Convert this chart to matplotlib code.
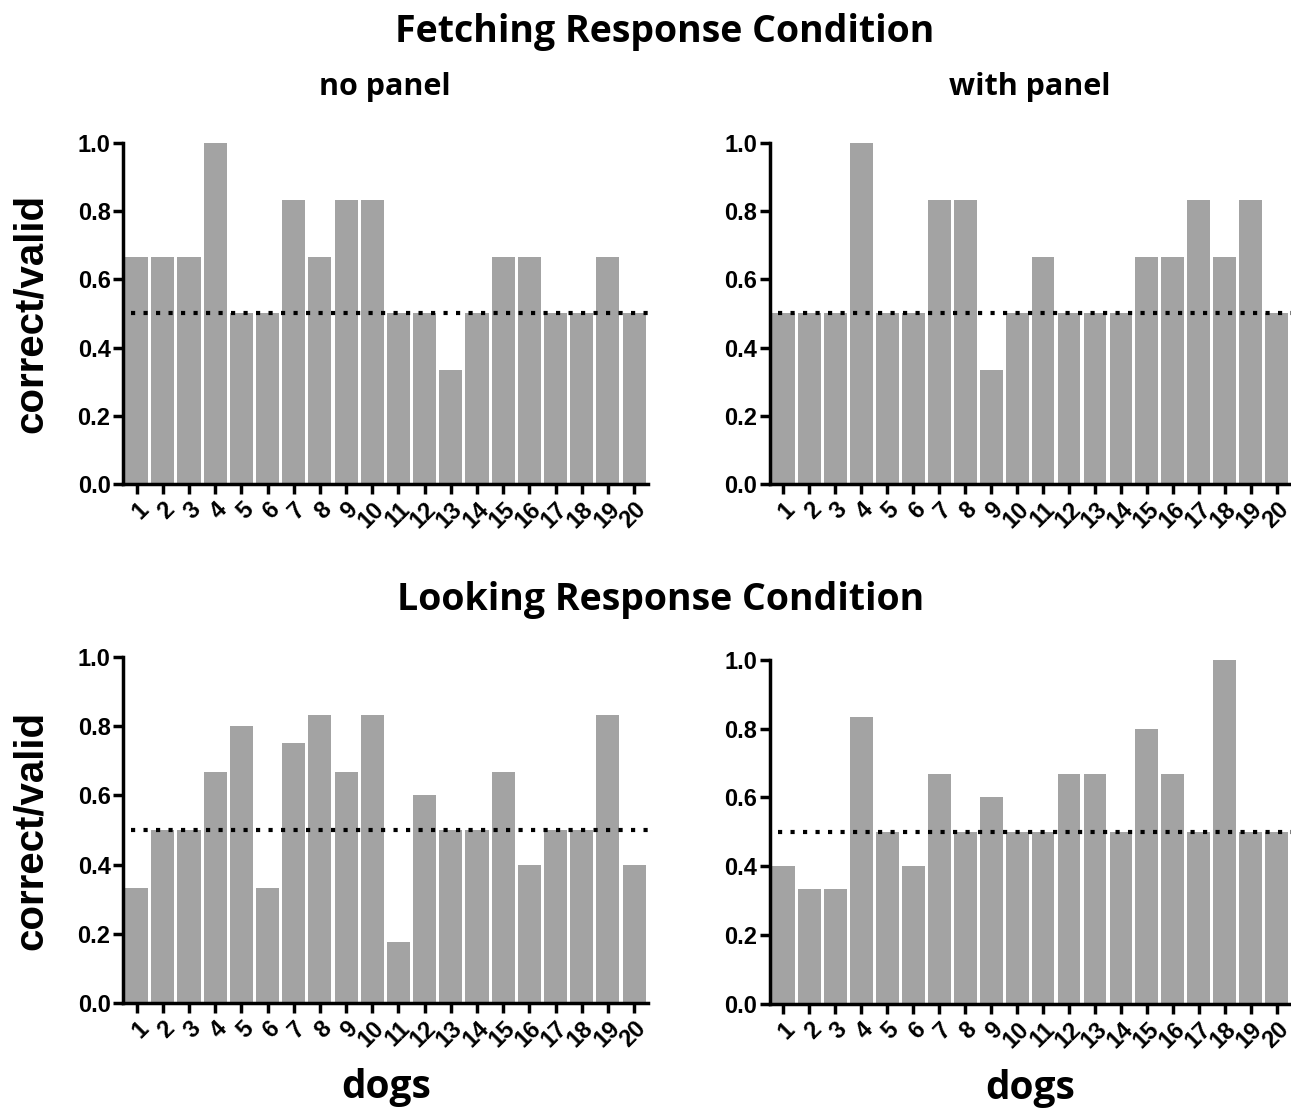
import matplotlib
matplotlib.use("Agg")
import matplotlib.pyplot as plt
import numpy as np

dogs = [str(i) for i in range(1, 21)]

fetch_no_panel = [0.667, 0.667, 0.667, 1.0, 0.5, 0.5, 0.833, 0.667, 0.833, 0.833,
                  0.5, 0.5, 0.333, 0.5, 0.667, 0.667, 0.5, 0.5, 0.667, 0.5]
fetch_with_panel = [0.5, 0.5, 0.5, 1.0, 0.5, 0.5, 0.833, 0.833, 0.333, 0.5,
                    0.667, 0.5, 0.5, 0.5, 0.667, 0.667, 0.833, 0.667, 0.833, 0.5]
look_no_panel = [0.333, 0.5, 0.5, 0.667, 0.8, 0.333, 0.75, 0.833, 0.667, 0.833,
                 0.175, 0.6, 0.5, 0.5, 0.667, 0.4, 0.5, 0.5, 0.833, 0.4]
look_with_panel = [0.4, 0.333, 0.333, 0.833, 0.5, 0.4, 0.667, 0.5, 0.6, 0.5,
                   0.5, 0.667, 0.667, 0.5, 0.8, 0.667, 0.5, 1.0, 0.5, 0.5]
chance = 0.5

tick_font = ["Liberation Sans", "DejaVu Sans"]
title_font = ["Open Sans", "DejaVu Sans"]

fig = plt.figure(figsize=(12.91, 11.09), dpi=100)

# axes rectangles in figure fractions
rects = [
    [0.0953, 0.5636, 0.407, 0.3075],
    [0.5964, 0.5636, 0.4036, 0.3075],
    [0.0953, 0.0956, 0.407, 0.312],
    [0.5964, 0.0947, 0.4036, 0.3105],
]
panels = [fetch_no_panel, fetch_with_panel, look_no_panel, look_with_panel]

x = np.arange(1, 21)
for i, (rect, vals) in enumerate(zip(rects, panels)):
    ax = fig.add_axes(rect)
    ax.bar(x, vals, width=0.88, color="#a3a3a3", zorder=2)
    ax.axhline(chance, color="black", linestyle=(0, (1, 2)), linewidth=3, zorder=3,
               xmin=0.015, xmax=1.0)
    ax.set_xlim(0.48, 20.55)
    ax.set_ylim(0, 1.0)
    ax.set_yticks([0.0, 0.2, 0.4, 0.6, 0.8, 1.0])
    ax.set_yticklabels(["0.0", "0.2", "0.4", "0.6", "0.8", "1.0"],
                       fontfamily=tick_font, fontweight="bold", fontsize=17)
    ax.set_xticks(x)
    ax.set_xticklabels(dogs, rotation=45, ha="right", va="top",
                       rotation_mode="anchor", fontfamily=tick_font,
                       fontweight="bold", fontsize=17)
    for s in ["top", "right"]:
        ax.spines[s].set_visible(False)
    for s in ["left", "bottom"]:
        ax.spines[s].set_linewidth(2.5)
    ax.tick_params(axis="both", width=2.5, length=7, direction="out", pad=2)
    ax.tick_params(axis="x", pad=3)
    if i % 2 == 0:
        ax.set_ylabel("correct/valid", fontfamily=tick_font, fontweight="bold",
                      fontsize=29)
        ax.yaxis.set_label_coords(-0.139, 0.5)
    if i >= 2:
        ax.set_xlabel("dogs", fontfamily=title_font, fontweight="bold",
                      fontsize=28, labelpad=12)

fig.text(0.515, 0.971, "Fetching Response Condition", ha="center", va="center",
         fontfamily=title_font, fontweight="bold", fontsize=27)
fig.text(0.298, 0.922, "no panel", ha="center", va="center",
         fontfamily=title_font, fontweight="bold", fontsize=22)
fig.text(0.798, 0.922, "with panel", ha="center", va="center",
         fontfamily=title_font, fontweight="bold", fontsize=22)
fig.text(0.512, 0.459, "Looking Response Condition", ha="center", va="center",
         fontfamily=title_font, fontweight="bold", fontsize=27)

fig.savefig("out.png", dpi=100)
